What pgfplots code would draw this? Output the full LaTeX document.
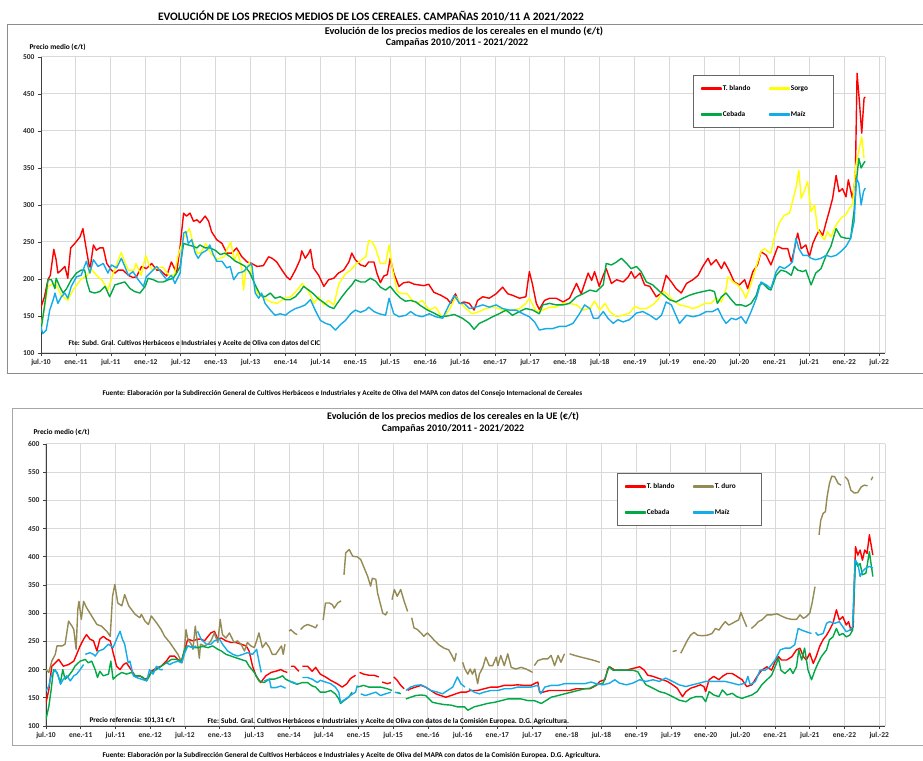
\documentclass[border=0pt]{standalone}
\usepackage{pgfplots}
\pgfplotsset{compat=1.18}
\usepackage{fontspec}
\setmainfont{Carlito}
\definecolor{cRed}{RGB}{255,0,0}
\definecolor{cYel}{RGB}{255,255,0}
\definecolor{cGrn}{RGB}{0,168,70}
\definecolor{cBlu}{RGB}{20,172,232}
\definecolor{cOli}{RGB}{148,138,84}
\pgfplotsset{
  cereal/.style={
    scale only axis,
    xmin=0, xmax=145,
    xtick={0,6,...,144},
    xticklabels={jul.-10,ene.-11,jul.-11,ene.-12,jul.-12,ene.-13,jul.-13,ene.-14,jul.-14,ene.-15,jul.-15,ene.-16,jul.-16,ene.-17,jul.-17,ene.-18,jul.-18,ene.-19,jul.-19,ene.-20,jul.-20,ene.-21,jul.-21,ene.-22,jul.-22},
    axis x line*=bottom, axis y line*=left,
    axis line style={draw=black!75, line width=0.8pt},
    grid=major,
    major grid style={draw=black!15, line width=1pt},
    tick align=outside,
    major tick length=3pt,
    tick style={draw=black!75, line width=0.6pt},
    ticklabel style={font=\bfseries\fontsize{7.5}{8}\selectfont, text=black!85},
    /pgf/number format/assume math mode=true,
    extra x ticks={145}, extra x tick labels={},
    extra x tick style={grid=major, major tick length=0pt},
    unbounded coords=jump,
    every axis plot/.append style={line width=1.4pt, line join=round},
    legend columns=2,
    legend cell align=left,
    legend image code/.code={\fill[##1] (0pt,-0.9pt) rectangle (19pt,0.9pt);},
    legend style={draw=black!60, line width=0.7pt, fill=white,
      font=\bfseries\fontsize{7.3}{8}\selectfont, inner xsep=8pt, inner ysep=9pt,
      row sep=17pt, anchor=north west,
      nodes={inner sep=1pt},
      /tikz/every even column/.append style={column sep=18pt}},
  }
}
\begin{document}
\begin{tikzpicture}[x=1pt,y=1pt]
\useasboundingbox[fill=white] (0,0) rectangle (923,760);
\draw[black!45, line width=0.8pt] (930,736) -- (7,736) -- (7,387) -- (930,387);
\draw[black!35, line width=0.8pt] (930,352) -- (12,352) -- (12,15) -- (930,15);
\node[font=\bfseries\fontsize{11.4}{13}\selectfont] at (371,744) {EVOLUCIÓN DE LOS PRECIOS MEDIOS DE LOS CEREALES. CAMPAÑAS 2010/11 A 2021/2022};
\node[font=\bfseries\fontsize{10.3}{11}\selectfont] at (464,729) {Evolución de los precios medios de los cereales en el mundo (€/t)};
\node[font=\bfseries\fontsize{10}{11}\selectfont] at (457,717) {Campañas 2010/2011 - 2021/2022};
\node[font=\bfseries\fontsize{7.4}{8}\selectfont, anchor=west] at (26,713) {Precio medio (€/t)};
\node[font=\bfseries\fontsize{7.2}{8}\selectfont, anchor=west] at (99,366) {Fuente: Elaboración por la Subdirección General de Cultivos Herbáceos e Industriales y Aceite de Oliva del MAPA con datos del Consejo Internacional de Cereales};
\node[font=\bfseries\fontsize{10}{11}\selectfont] at (453,343) {Evolución de los precios medios de los cereales en la UE (€/t)};
\node[font=\bfseries\fontsize{10}{11}\selectfont] at (453,331) {Campañas 2010/2011 - 2021/2022};
\node[font=\bfseries\fontsize{7.4}{8}\selectfont, anchor=west] at (30,328) {Precio medio (€/t)};
\node[font=\bfseries\fontsize{7.3}{8}\selectfont, anchor=west] at (99,4.5) {Fuente: Elaboración por la Subdirección General de Cultivos Herbáceos e Industriales y Aceite de Oliva del MAPA con datos de la Comisión Europea. D.G. Agricultura.};

\begin{axis}[cereal, at={(41pt,407pt)}, anchor=south west, width=844pt, height=296pt,
  ymin=100, ymax=500, ytick={100,150,...,500},
  legend style={at={(0.7725,0.939)}}]
\addplot[cRed] coordinates {(0,162)(0.6,176)(1.2,199)(1.6,205)(2.2,240)(2.6,226)(2.9,208)(3.5,212)(4.1,217)(4.6,201)(5.1,242)(5.8,248)(6.7,257)(7.2,268)(7.7,244)(8.4,212)(9,246)(9.5,239)(10.1,242)(10.7,242)(11.3,221)(12.1,212)(12.7,208)(13.3,212)(14.1,212)(15,205)(15.8,202)(16.4,203)(17.3,217)(18.1,214)(19,221)(19.9,212)(20.5,212)(21,208)(21.6,204)(22.4,223)(23.3,208)(23.9,244)(24.5,289)(25,285)(25.6,289)(26.2,278)(26.8,280)(27.3,276)(28.2,285)(28.8,278)(29.3,264)(30.2,253)(31.1,248)(31.9,235)(32.8,235)(33.6,242)(34.5,230)(35.4,223)(36.2,221)(37.1,217)(38.2,218)(39.1,230)(39.7,228)(40.5,223)(41.4,212)(42.2,203)(42.8,199)(43.7,212)(44.5,226)(44.8,238)(45.4,228)(46,235)(46.3,240)(46.8,215)(47.7,205)(48.6,190)(49.4,199)(50.3,201)(51.1,208)(52,212)(52.9,223)(53.4,235)(54,226)(54.9,219)(55.7,217)(56.3,223)(57.2,223)(57.7,208)(58.3,195)(58.9,204)(59.5,206)(60,228)(60.6,208)(61.5,190)(62.3,195)(63.2,196)(64.1,193)(64.9,192)(65.8,191)(66.6,193)(67.5,182)(68.7,178)(69.8,173)(70.4,167)(71.2,180)(71.9,167)(72.7,169)(73.6,167)(74.4,158)(75,171)(75.9,176)(77,174)(78.2,180)(79.3,189)(80.2,180)(81,178)(82.2,174)(83.3,176)(83.9,210)(84.4,194)(85.1,167)(85.6,159)(86.5,171)(87.4,174)(88.5,174)(89.7,169)(90.8,174)(92,194)(92.8,180)(94,208)(94.6,198)(95.1,210)(95.9,190)(96.6,205)(97.1,214)(98,194)(98.9,199)(100,196)(100.9,203)(101.4,210)(102,201)(102.9,208)(103.7,192)(104.6,190)(105.7,176)(106.6,181)(107.4,205)(108.3,196)(109.1,187)(110,181)(110.9,194)(112,199)(112.9,205)(113.7,217)(114.6,228)(115.1,219)(116,226)(116.9,214)(117.4,223)(118.3,210)(119.1,196)(120,192)(120.9,199)(121.4,187)(122.3,210)(123.1,219)(123.7,237)(124.6,232)(125.4,219)(126.6,244)(127.4,241)(128.3,241)(128.9,223)(129.4,239)(130,262)(130.6,241)(131.4,246)(132,230)(132.6,248)(133.1,257)(133.7,266)(134.3,259)(134.9,277)(135.4,291)(136,309)(136.6,340)(137.1,318)(137.7,322)(138.3,311)(138.7,334)(139.4,309)(139.9,336)(140.2,478)(140.6,440)(141,397)(141.4,444)(141.6,446)};
\addlegendentry{T. blando}
\addplot[cYel] coordinates {(0,135)(1.2,190)(2.4,195)(3.5,178)(4.6,171)(5.5,185)(6.9,200)(8,205)(8.4,215)(9.8,203)(10.5,198)(11.5,185)(12.5,210)(13.8,236)(14.3,225)(15,212)(16,212)(16.3,221)(17.2,205)(18,232)(18.6,218)(19.2,212)(20,215)(20.9,216)(22,205)(22.9,205)(23.5,230)(24.6,257)(25.5,268)(26,252)(26.9,234)(27.5,236)(28.3,248)(29.2,234)(30.3,227)(31.5,230)(32,241)(32.6,250)(33.2,225)(33.8,236)(34.5,214)(34.8,185)(35.2,212)(35.8,223)(36.3,203)(37.2,180)(38.3,174)(39.5,169)(40.6,167)(41.8,174)(42.9,176)(44,185)(44.9,194)(45.8,185)(46.3,178)(46.9,167)(47.7,176)(48.6,165)(49.4,171)(50.3,165)(51.2,194)(52.3,207)(53.2,212)(54,219)(54.9,225)(55.8,230)(56.3,252)(56.9,250)(57.5,241)(58.3,221)(59.2,221)(59.8,246)(60.4,212)(61.2,183)(62.1,180)(62.9,180)(63.8,171)(64.7,167)(65.5,171)(66.7,158)(67.8,162)(69,147)(70.1,158)(71.3,176)(72.1,167)(73,160)(74.1,153)(75.3,156)(76.4,160)(77.6,162)(78.7,160)(79.9,156)(81,158)(82.2,160)(83.3,167)(83.9,174)(85.1,156)(86.2,158)(87.4,162)(88.5,162)(89.7,167)(90.8,167)(92,165)(93.1,158)(94.3,160)(95.1,170)(96,158)(96.9,167)(97.7,156)(98.9,149)(100,151)(101.1,154)(102,163)(102.9,160)(104,160)(105.1,165)(106,172)(106.6,181)(107.1,183)(108,176)(108.9,169)(109.7,165)(110.9,163)(112,160)(113.1,163)(114,167)(115.1,167)(116,174)(116.9,169)(117.7,187)(118,203)(118.9,196)(119.7,192)(120.6,183)(121.1,174)(121.7,187)(122.3,201)(123.1,223)(123.7,237)(124.3,241)(124.9,237)(125.4,235)(126,257)(126.9,277)(127.7,286)(128.6,289)(129.1,305)(129.7,323)(130.2,347)(130.6,309)(131.1,318)(131.7,332)(132.3,291)(132.9,300)(133.4,268)(134,259)(134.6,253)(135.1,264)(135.7,257)(136.6,273)(137.4,282)(138.3,287)(138.9,296)(139.4,300)(140,354)(140.6,377)(141,392)(141.4,363)};
\addlegendentry{Sorgo\hspace*{16pt}}
\addplot[cGrn] coordinates {(0,131)(0.6,163)(1.2,199)(1.8,199)(2.4,187)(2.6,201)(3.2,190)(3.8,181)(4.4,187)(5.2,199)(6.1,208)(6.9,212)(7.5,212)(7.9,196)(8.4,183)(9.2,181)(10.1,183)(11,190)(11.8,176)(12.7,192)(13.5,194)(14.4,196)(15.3,187)(16.1,183)(17,181)(17.9,190)(18.4,201)(19.3,199)(20.1,196)(21,196)(21.9,199)(22.7,201)(23.3,208)(23.9,217)(24.5,248)(25.3,246)(26.2,244)(26.8,242)(27.3,246)(28.2,242)(29,242)(29.9,239)(30.8,233)(31.6,235)(32.5,230)(33.4,224)(34.2,221)(35.1,217)(35.9,208)(36.8,192)(37.7,178)(38.5,176)(39.4,181)(40.2,174)(41.1,176)(42,172)(42.8,172)(43.7,176)(44.5,183)(45.1,190)(46,185)(46.8,180)(47.7,173)(48.6,168)(49.4,163)(50.3,160)(50.9,167)(51.7,176)(52.6,185)(53.4,192)(54,199)(54.9,196)(55.7,196)(56.6,201)(57.5,197)(58.3,189)(59.2,185)(60,190)(60.9,181)(61.8,174)(62.6,170)(63.5,171)(64.4,169)(65.2,164)(66.4,158)(67.5,154)(68.7,149)(69.8,150)(71,152)(72.4,147)(73.6,140)(74.4,132)(75.3,140)(76.4,144)(77.6,149)(78.7,153)(79.9,158)(81,151)(82.2,156)(83.3,160)(84.5,158)(85.6,153)(86.2,165)(87.4,167)(88.5,165)(89.7,165)(90.8,167)(92,176)(93.1,180)(94.3,185)(95.4,183)(96.6,192)(97.1,221)(98,219)(98.9,223)(99.7,228)(100.6,221)(101.4,214)(102.3,217)(103.1,210)(104,196)(105.1,192)(106.3,183)(107.1,178)(108,172)(109.1,169)(110.3,174)(111.4,178)(112.6,181)(113.7,183)(114.9,185)(115.7,183)(116.2,167)(116.9,176)(117.7,181)(118.6,172)(119.4,165)(120.3,165)(121.1,163)(122,167)(122.9,178)(123.4,192)(124,194)(124.9,187)(125.4,185)(126.3,205)(127.1,212)(128,210)(128.9,205)(129.4,217)(130,212)(130.9,210)(131.4,212)(132.3,192)(133.1,208)(134,214)(134.9,232)(135.7,244)(136.6,268)(137.4,257)(138.3,255)(139.1,255)(139.7,293)(140,325)(140.5,363)(140.9,350)(141.3,356)(141.6,359)};
\addlegendentry{Cebada}
\addplot[cBlu] coordinates {(0,135)(0.3,126)(0.9,131)(1.5,158)(2.1,172)(2.4,181)(2.9,167)(3.5,176)(4.1,181)(4.6,174)(5.2,190)(6.1,203)(6.9,205)(7.8,224)(8.4,208)(9,226)(9.8,217)(10.7,221)(11.5,208)(12.1,219)(13,215)(13.8,228)(14.4,217)(15,205)(15.8,210)(16.7,199)(17.6,190)(18.1,203)(19,210)(19.9,217)(20.7,208)(21.6,199)(22.4,205)(23,194)(23.9,208)(24.5,262)(24.9,264)(25.3,248)(25.9,253)(26.5,235)(27,228)(27.6,235)(28.5,239)(29,246)(29.6,233)(30.2,224)(31.1,224)(31.9,215)(32.5,217)(33.1,199)(33.9,208)(34.8,210)(35.6,217)(36.2,221)(36.8,181)(37.4,174)(37.9,181)(38.5,167)(39.4,158)(40.2,151)(41.1,153)(42,151)(42.8,156)(43.7,160)(44.5,162)(45.4,165)(46.3,172)(47.1,158)(48,144)(48.9,140)(49.7,138)(50.6,131)(51.4,138)(52.3,144)(53.2,153)(54,158)(54.9,155)(55.8,158)(56.3,162)(57.2,156)(58.1,153)(59.2,151)(59.8,174)(60.6,153)(61.5,149)(62.7,151)(63.5,156)(64.4,151)(65.5,149)(66.7,153)(67.8,149)(69,147)(70.1,165)(71,178)(71.9,167)(72.7,167)(73.6,160)(74.7,162)(75.9,165)(77,162)(78.2,165)(79.3,160)(80.5,158)(81.6,158)(82.8,153)(83.9,149)(84.8,142)(85.6,131)(86.8,133)(87.9,133)(89.1,136)(90.2,136)(91.4,140)(92.5,153)(93.4,165)(94.3,160)(94.9,147)(95.7,147)(96.6,156)(97.4,147)(98.3,140)(99.1,145)(100,142)(101.1,145)(102.3,154)(103.4,156)(104.6,151)(105.7,145)(106.6,151)(107.4,169)(108.3,165)(108.9,154)(109.7,140)(110.9,151)(112,149)(113.1,151)(114.3,156)(115.4,156)(116.3,160)(117.1,147)(117.7,140)(118.6,147)(119.4,145)(120.3,149)(121.1,140)(122,156)(122.9,174)(123.7,196)(124.6,192)(125.4,187)(126.3,210)(126.9,217)(127.7,214)(128.6,219)(129.1,223)(129.7,255)(130.2,241)(130.9,232)(131.7,232)(132.3,228)(133.1,226)(134,228)(134.9,232)(135.7,230)(136.6,232)(137.4,237)(138.3,244)(139.1,255)(139.7,278)(140.1,336)(140.5,329)(140.9,300)(141.3,318)(141.6,323)};
\addlegendentry{Maíz}
\end{axis}
\node[font=\bfseries\fontsize{7.2}{8}\selectfont, anchor=west] at (65,416) {Fte: Subd. Gral. Cultivos Herbáceos e Industriales y Aceite de Oliva con datos del CIC};

\begin{axis}[cereal, at={(46pt,34pt)}, anchor=south west, width=839pt, height=282pt,
  ymin=100, ymax=600, ytick={100,150,...,600},
  legend style={at={(0.6806,0.897)}}]
\addplot[cRed] coordinates {(0,141)(0.5,165)(1,206)(1.6,212)(2.2,218)(3,206)(3.9,209)(4.8,215)(5.3,227)(5.9,242)(6.5,254)(7,262)(7.6,254)(8.2,251)(8.8,233)(9.3,254)(9.9,259)(10.5,254)(11.1,251)(11.6,230)(12.2,206)(12.8,200)(13.4,209)(13.9,212)(14.5,203)(15.4,189)(16.2,189)(17.1,183)(17.7,186)(18.2,197)(19.1,203)(19.9,206)(20.8,215)(21.4,224)(22.2,224)(22.8,218)(23.4,215)(24,236)(24.5,254)(25.4,251)(26.2,254)(26.8,254)(27.4,251)(28,259)(28.5,265)(29.1,268)(29.7,254)(30.3,256)(31.1,251)(32,248)(32.8,248)(33.7,245)(34.6,242)(35.1,233)(35.7,206)(36.3,189)(37.1,177)(38,189)(38.9,195)(39.7,197)(40.6,200)(41.1,197)(41.7,195)(42,nan)(42.3,206)(42.9,206)(43.4,200)(43.7,197)(44,nan)(44.3,206)(45.2,206)(46,197)(46.6,204)(47.4,192)(48.3,187)(49.2,181)(50.3,175)(51.2,169)(52,175)(52.6,184)(53.5,190)(53.8,nan)(54.2,195)(54.9,192)(55.8,190)(56.7,190)(57.5,187)(57.8,nan)(58.1,178)(59,175)(59.6,177)(59.8,nan)(60.1,187)(60.7,181)(61.3,172)(61.9,166)(62.2,nan)(62.5,163)(63,166)(63.9,169)(64.8,172)(65.6,169)(66.5,163)(67.4,157)(68.2,154)(69.1,151)(70,154)(70.8,157)(71.7,160)(72.6,160)(73.4,163)(74.6,163)(75.7,166)(76.9,169)(78.1,169)(79.2,172)(80.4,172)(81.5,173)(82.7,172)(83.8,172)(85,178)(85.3,160)(85.9,160)(87,163)(88.2,163)(89.3,163)(90.5,163)(91.6,166)(92.8,166)(94,166)(95.1,172)(95.7,179)(96.6,182)(97.1,202)(97.4,205)(98.3,199)(99.1,199)(100.3,199)(101.4,202)(102.6,205)(103.4,199)(104,190)(104.9,188)(105.7,185)(106.6,182)(107.4,179)(108.3,173)(109.1,167)(110,152)(110.6,161)(111.4,167)(112.3,170)(113.1,173)(113.7,170)(114,161)(114.6,182)(115.4,188)(116.3,182)(116.9,188)(117.7,193)(118.6,193)(119.4,188)(120.3,182)(121.1,170)(122,173)(122.9,188)(123.7,199)(124.6,205)(125.4,199)(126,214)(126.6,223)(127.1,217)(128,217)(128.9,223)(129.7,235)(130.3,238)(130.9,223)(131.4,217)(132,229)(132.6,211)(133.1,223)(133.7,241)(134.3,253)(134.9,261)(135.4,270)(136,282)(136.6,306)(137.1,288)(137.7,294)(138.3,279)(138.7,285)(139.1,270)(139.5,276)(139.9,418)(140.3,403)(140.7,412)(141.1,394)(141.5,412)(141.9,406)(142.3,439)(142.9,403)};
\addlegendentry{T. blando}
\addplot[cOli] coordinates {(0,200)(0.5,195)(1,215)(1.6,227)(1.9,242)(2.8,242)(3.3,245)(3.9,286)(4.5,277)(4.8,271)(5.2,236)(5.5,307)(5.7,321)(6.1,289)(6.5,321)(7,310)(7.9,295)(8.8,280)(9.6,277)(10.5,268)(11.1,259)(11.5,330)(11.9,351)(12.4,318)(13.1,313)(13.6,333)(14.3,313)(15.4,298)(16.2,292)(16.5,298)(17.1,286)(17.7,280)(18.2,295)(19.1,283)(19.9,271)(20.5,259)(21.4,248)(22.2,236)(22.8,227)(23.5,212)(23.8,224)(24.2,271)(24.5,254)(25.1,245)(25.4,236)(25.8,277)(26.2,245)(26.5,220)(26.7,245)(27.4,242)(28,245)(28.5,251)(29.1,265)(29.4,256)(29.7,248)(30.1,289)(30.5,262)(31.1,256)(31.7,265)(32.5,248)(33.1,251)(33.7,245)(34.3,233)(34.8,248)(35.4,242)(36,239)(36.4,251)(36.8,265)(37.4,239)(38,248)(38.6,239)(39.1,227)(39.7,227)(40.3,236)(40.7,242)(41,227)(41.3,245)(41.5,nan)(42,268)(42.3,271)(42.9,265)(43.4,262)(43.7,nan)(44,271)(44.6,277)(45.2,280)(46,277)(46.6,274)(46.9,280)(47.2,nan)(47.9,288)(48.3,318)(49,318)(49.5,315)(49.8,309)(50.4,318)(51,322)(51.2,nan)(51.5,368)(51.8,407)(52.4,413)(53,401)(53.8,400)(54.4,395)(55,380)(55.6,365)(56.1,348)(56.4,362)(57,360)(57.3,336)(57.9,312)(58.2,300)(58.7,297)(59,303)(59.3,nan)(59.8,324)(60.2,342)(60.7,330)(61.3,342)(61.9,321)(62.5,303)(62.8,nan)(63.2,292)(63.6,274)(64.2,271)(64.8,265)(65.3,259)(65.9,265)(66.5,259)(67,253)(67.9,244)(68.8,238)(69.6,235)(70.2,224)(70.6,215)(70.9,229)(71.2,nan)(72,213)(72.4,201)(72.9,192)(73.3,201)(73.7,192)(74.1,201)(74.6,175)(74.9,192)(75.5,204)(76,222)(76.6,207)(77.2,207)(77.8,222)(78.1,207)(78.6,225)(79.2,207)(79.8,228)(80.4,204)(81.2,201)(82.1,204)(83,201)(84.1,195)(84.3,nan)(84.4,207)(85,216)(85.9,219)(86.7,219)(87.3,225)(87.9,207)(88.5,225)(89,213)(89.6,228)(89.9,nan)(90.5,228)(91.4,225)(92.5,222)(93.7,219)(94.8,216)(95.7,213)(95.9,nan)(108.3,232)(109,234)(109.3,nan)(109.7,229)(110.3,241)(110.9,253)(111.4,261)(112,266)(112.6,261)(113.4,260)(114.3,261)(115.1,264)(115.7,273)(116.3,270)(116.9,279)(117.4,285)(118,279)(118.6,282)(119.1,285)(119.7,288)(120.1,301)(120.6,288)(121.1,276)(121.5,nan)(121.9,273)(122.6,279)(123.1,285)(123.7,288)(124.6,297)(125.4,297)(126.3,299)(127.1,295)(128,291)(128.9,289)(129.7,289)(130.3,297)(130.9,291)(131.4,294)(132,300)(132.4,318)(132.9,347)(133.2,nan)(133.6,439)(133.9,465)(134.3,477)(134.7,480)(135,507)(135.4,530)(135.8,543)(136.3,542)(136.9,530)(137.4,527)(137.7,nan)(138.1,542)(138.6,536)(139.1,518)(139.7,513)(140.3,514)(140.9,524)(141.4,527)(142,526)(142.3,nan)(142.6,536)(142.9,542)};
\addlegendentry{T. duro\hspace*{17pt}}
\addplot[cGrn] coordinates {(0,112)(0.5,135)(0.9,165)(1.3,200)(1.9,195)(2.5,177)(2.9,200)(3.3,183)(3.9,189)(4.5,197)(5,206)(5.9,215)(6.8,218)(7.3,212)(7.9,215)(8.5,200)(8.9,186)(9.3,197)(9.9,189)(10.8,192)(11.2,215)(11.6,183)(12.2,189)(13.1,195)(13.9,192)(14.8,195)(15.4,189)(16.2,189)(16.8,186)(17.4,180)(18.2,195)(19.1,200)(19.9,206)(20.8,212)(21.7,218)(22.5,218)(23.4,215)(24,236)(24.5,242)(25.4,239)(26.2,239)(27.1,241)(28,239)(28.8,242)(29.7,236)(30.3,233)(31.1,227)(32,224)(32.8,221)(33.7,218)(34.6,215)(35.1,206)(36,195)(36.8,180)(37.7,177)(38.6,183)(39.4,183)(40.3,186)(40.9,189)(41.4,183)(42,180)(42.6,177)(43.4,174)(44.3,177)(45.2,177)(46,171)(46.6,169)(47.4,160)(48.3,160)(49.2,163)(50,157)(50.6,148)(50.9,140)(51.5,145)(52.3,151)(52.9,160)(53.2,nan)(53.8,169)(54.9,172)(55.8,169)(56.7,169)(57.8,169)(59,166)(59.8,163)(60.1,nan)(60.7,160)(61.3,157)(61.6,nan)(62.2,148)(63,151)(63.9,154)(64.8,155)(65.6,154)(66.2,148)(66.8,142)(67.7,140)(68.8,138)(70,137)(71.1,134)(72.3,134)(72.9,128)(74,134)(75.2,137)(76.3,140)(77.5,142)(78.7,145)(79.8,148)(81,148)(82.1,148)(83.3,145)(84.4,145)(85.6,140)(86.4,145)(87.3,151)(88.5,154)(89.6,157)(90.8,160)(91.9,163)(93.1,166)(94,167)(95.1,173)(96.3,176)(96.9,193)(97.3,205)(98,199)(99.1,199)(100.3,199)(101.4,199)(102.3,196)(102.9,185)(103.7,173)(104.9,167)(106,161)(107.1,158)(108.3,152)(109.4,146)(110.6,143)(111.4,149)(112.3,152)(113.4,152)(114,143)(114.6,161)(115.4,155)(116.3,152)(116.9,164)(117.7,155)(118.6,158)(119.4,152)(120.3,149)(121.1,152)(122,155)(122.9,161)(123.7,173)(124.6,182)(125.4,190)(126,205)(126.6,220)(127,199)(127.7,193)(128.6,202)(129.1,193)(129.7,205)(130.1,235)(130.6,217)(131.1,238)(131.7,199)(132.3,182)(132.9,199)(133.4,211)(134,223)(134.9,235)(135.4,253)(136,258)(136.6,273)(137.1,261)(137.7,264)(138.3,258)(138.9,261)(139.4,270)(139.9,394)(140.3,383)(140.7,388)(141.1,368)(141.7,371)(142.3,409)(142.9,365)};
\addlegendentry{Cebada}
\addplot[cBlu] coordinates {(0,162)(0.5,171)(0.9,189)(1.6,200)(2.1,189)(2.5,174)(3,183)(3.6,189)(4.2,180)(4.8,189)(5.3,192)(5.9,200)(6.5,209)(6.6,nan)(6.8,227)(7.6,230)(8.2,227)(8.5,224)(9.1,233)(9.9,236)(10.8,245)(11.6,239)(12.4,259)(12.8,268)(13.2,254)(13.6,245)(14.2,212)(14.5,215)(15.1,189)(15.6,186)(16.5,183)(17.4,180)(17.9,200)(18.5,192)(19.1,206)(19.7,200)(20.2,200)(20.4,nan)(20.8,212)(21.4,209)(21.9,212)(22.8,215)(23.4,212)(24,230)(24.5,242)(25.4,239)(26,242)(26.1,nan)(26.2,268)(26.8,254)(27.7,245)(28.5,245)(29.1,251)(30,254)(30.5,245)(31.4,233)(32.3,227)(33.1,224)(34,227)(34.8,230)(35.7,227)(36.4,236)(36.8,215)(37.2,195)(37.4,nan)(37.7,180)(38.6,183)(38.9,168)(39.7,168)(40.6,171)(41.4,167)(41.7,nan)(42,180)(42.9,177)(43.4,174)(43.8,nan)(44.3,186)(45.2,186)(46,183)(46.9,177)(47.4,181)(48.3,178)(49.2,175)(50,169)(50.6,160)(50.9,142)(51.8,148)(52.6,154)(53.5,160)(53.8,172)(54.1,nan)(54.4,157)(55.2,154)(56.1,157)(57,160)(57.8,154)(58.7,157)(59.6,160)(59.9,nan)(60.3,160)(61,158)(61.3,nan)(62.2,163)(63,169)(63.9,172)(64.8,173)(65.6,169)(66.5,163)(67.7,160)(68.5,157)(69.4,163)(70.3,169)(71.1,187)(71.7,175)(72.4,169)(72.6,nan)(73.1,166)(74,160)(74.9,157)(75.7,160)(76.9,163)(78.1,163)(79.2,166)(80.4,166)(81.5,169)(82.7,169)(83.8,169)(85,172)(85.5,157)(86.2,169)(87.3,172)(88.5,172)(89.6,175)(90.8,175)(91.9,175)(93.1,175)(94.2,178)(95.1,175)(96.3,173)(97.4,176)(98.3,182)(99.1,176)(100.3,173)(101.4,176)(102.6,182)(103.7,179)(104.9,182)(106,179)(107.1,185)(108.3,179)(109.4,173)(110.6,170)(111.7,173)(112.9,176)(114,179)(115.1,179)(116.3,179)(117.4,179)(118.6,176)(119.7,173)(120.9,176)(121.3,188)(121.7,173)(122.6,179)(123.4,199)(124.3,199)(125.1,205)(126,217)(126.9,235)(127.7,238)(128.6,238)(129.4,244)(130,273)(130.6,270)(131.4,267)(132.3,264)(132.6,nan)(133,266)(133.4,261)(134.3,264)(134.9,282)(135.4,285)(136.3,282)(137.1,285)(137.7,276)(138.3,267)(138.9,270)(139.4,276)(139.8,394)(140.3,388)(140.7,365)(141.1,374)(141.7,380)(142.3,383)(142.9,380)};
\addlegendentry{Maíz}
\end{axis}
\node[font=\bfseries\fontsize{7.2}{8}\selectfont, anchor=west] at (86,40) {Precio referencia: 101,31 €/t};
\node[font=\bfseries\fontsize{7.3}{8}\selectfont, anchor=west] at (204,38) {Fte: Subd. Gral. Cultivos Herbáceos e Industriales \ y Aceite de Oliva con datos de la Comisión Europea. D.G. Agricultura.};
\end{tikzpicture}
\end{document}
